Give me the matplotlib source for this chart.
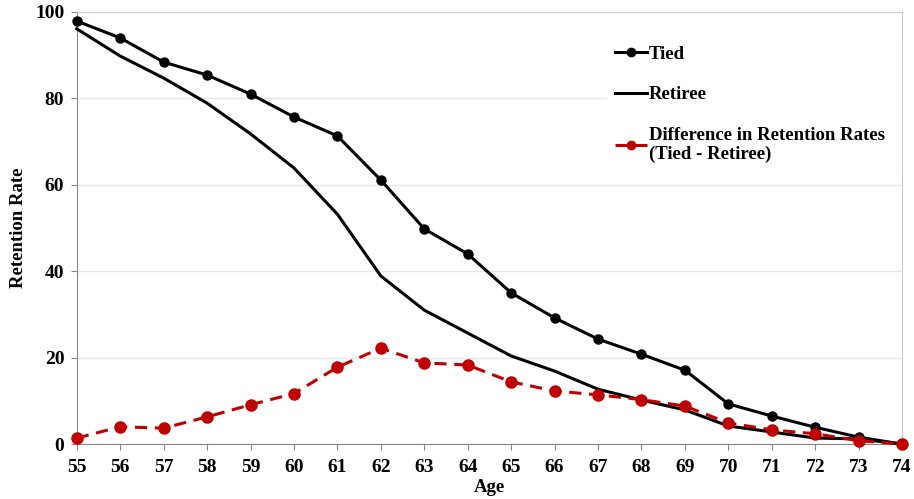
import matplotlib.pyplot as plt

# ages on the x axis
ages = list(range(55, 75))

# retention rates
tied = [97.9, 94.0, 88.4, 85.4, 81.0, 75.7, 71.3, 61.1, 49.8, 44.0,
        35.0, 29.2, 24.3, 20.8, 17.1, 9.3, 6.5, 3.9, 1.6, 0.0]
retiree = [96.1, 89.8, 84.7, 78.9, 71.8, 63.9, 53.2, 38.9, 31.0, 25.7,
           20.4, 16.9, 12.7, 10.2, 7.9, 4.2, 2.8, 1.4, 1.2, 0.0]
difference = [1.4, 4.0, 3.7, 6.3, 9.1, 11.7, 17.8, 22.2, 18.8, 18.3,
              14.4, 12.3, 11.4, 10.3, 8.8, 4.9, 3.3, 2.4, 0.8, 0.0]

plt.rcParams["font.family"] = ["Liberation Serif", "DejaVu Serif"]
plt.rcParams["font.weight"] = "bold"

fig = plt.figure(figsize=(9.14, 4.99), dpi=100)
ax = fig.add_axes([0.084, 0.110, 0.903, 0.866])

ax.plot(ages, tied, color="black", lw=2.2, marker="o", ms=6.5, label="Tied",
        zorder=3, clip_on=False)
ax.plot(ages, retiree, color="black", lw=2.2, label="Retiree", zorder=3, clip_on=False)
ax.plot(ages, difference, color="#C00000", lw=2.2, ls=(0, (4, 2.5)), marker="o", ms=8,
        label="Difference in Retention Rates\n(Tied - Retiree)", zorder=3, clip_on=False)

ax.set_xlim(55, 74)
ax.set_ylim(0, 100)
ax.set_xticks(ages)
ax.set_yticks([0, 20, 40, 60, 80, 100])
ax.tick_params(labelsize=14, length=4, color="#888888", pad=5)
ax.tick_params(axis="x", pad=7)
ax.grid(axis="y", color="#e6e6e6", lw=1)
ax.set_axisbelow(True)
for s in ["left", "bottom"]:
    ax.spines[s].set_color("#888888")
for s in ["top", "right"]:
    ax.spines[s].set_color("#cccccc")

ax.set_xlabel("Age", fontsize=13.5, fontweight="bold", labelpad=2)
ax.set_ylabel("Retention Rate", fontsize=13.5, fontweight="bold", labelpad=6)

leg = ax.legend(loc="upper left", bbox_to_anchor=(0.643, 0.94, 0.357, 0.0),
                mode="expand", frameon=True,
                fontsize=13.5, handlelength=1.7, handletextpad=0.1, labelspacing=1.25,
                borderaxespad=0, fancybox=False)
leg.get_frame().set_edgecolor("none")
leg.get_frame().set_facecolor("white")
leg.get_frame().set_alpha(1)
for h in leg.legend_handles:
    if h.get_marker() == "o":
        h.set_markersize(6)

fig.savefig("out.png", dpi=100)
